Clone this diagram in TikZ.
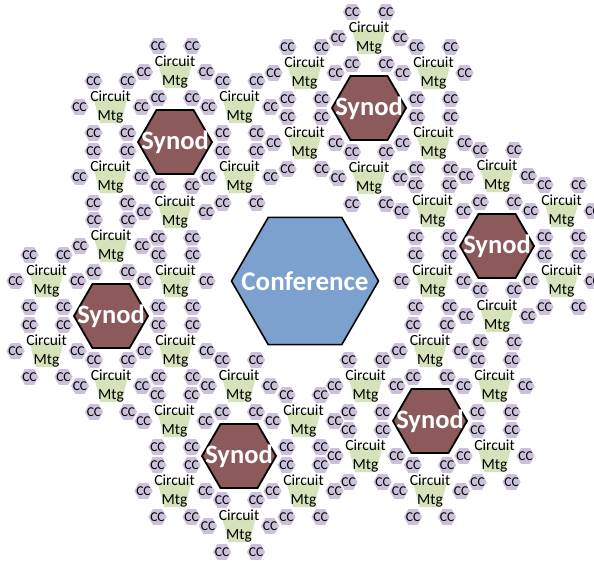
\documentclass[tikz,border=0pt]{standalone}
\usepackage{fontspec}
\setmainfont{Carlito}
\usetikzlibrary{shapes.geometric}
\definecolor{confblue}{RGB}{125,161,207}
\definecolor{synodbrown}{RGB}{140,90,90}
\definecolor{mtggreen}{RGB}{213,226,186}
\definecolor{ccpurple}{RGB}{204,193,218}

\begin{document}
\begin{tikzpicture}
      [x=1pt,y=-1pt,
       hexa/.style={regular polygon,regular polygon sides=6,inner sep=0pt,outer sep=0pt},
       conf node/.style={hexa,minimum size=147pt,fill=confblue,draw=black,line width=1.6pt,
         label={[text=white,font=\fontsize{27}{30}\selectfont\bfseries]center:Conference}},
       synod node/.style={hexa,minimum size=74pt,fill=synodbrown,draw=black,line width=1.8pt,
         label={[text=white,font=\fontsize{26.5}{30}\selectfont\bfseries]center:Synod}},
       mtg node/.style={trapezium,shape border rotate=180,trapezium angle=73,
         trapezium stretches=true,minimum width=34pt,minimum height=25pt,inner sep=1pt,
         outer sep=0pt,fill=mtggreen,
         label={[align=center,yshift=3.5pt,font=\fontsize{15.5}{19}\selectfont]center:Circuit\\Mtg}},
       cc node/.style={hexa,minimum size=20pt,fill=ccpurple,draw=white,line width=1.2pt,
         label={[font=\fontsize{13.5}{13.5}\selectfont]center:CC}}]
        \useasboundingbox (0,0) rectangle (594,565);
        \clip (0,0) rectangle (594,565);

        % congregations
        \foreach \s/\sx/\sy in {1/175/142,2/369/108,3/497/246,4/430/421,5/239/456,6/111/316}
          \foreach \c/\cx/\cy in {1/0/-70,2/64.5/-35,3/64.5/35,4/0/70,5/-64.5/35,6/-64.5/-35}
            \foreach \k/\kx/\ky in {1/31/0,2/17/-26,3/-17/-26,4/-31/0,5/-17/26,6/17/26}
              \node[cc node] (s\s-c\c-k\k) at (\sx+\cx+\kx,\sy+\cy+\ky) {};

        % circuits (green part sits a little below the text centre)
        \foreach \s/\sx/\sy in {1/175/142,2/369/108,3/497/246,4/430/421,5/239/456,6/111/316}
          \foreach \c/\cx/\cy in {1/0/-70,2/64.5/-35,3/64.5/35,4/0/70,5/-64.5/35,6/-64.5/-35}
            \node[mtg node] (s\s-c\c) at (\sx+\cx,\sy+\cy+3.5) {};

        % synods
        \foreach \s/\sx/\sy in {1/175/142,2/369/108,3/497/246,4/430/421,5/239/456,6/111/316}
          \node[synod node] (s\s) at (\sx,\sy) {};

        \node[conf node] (conf) at (305,281) {};

      \end{tikzpicture}
\end{document}
